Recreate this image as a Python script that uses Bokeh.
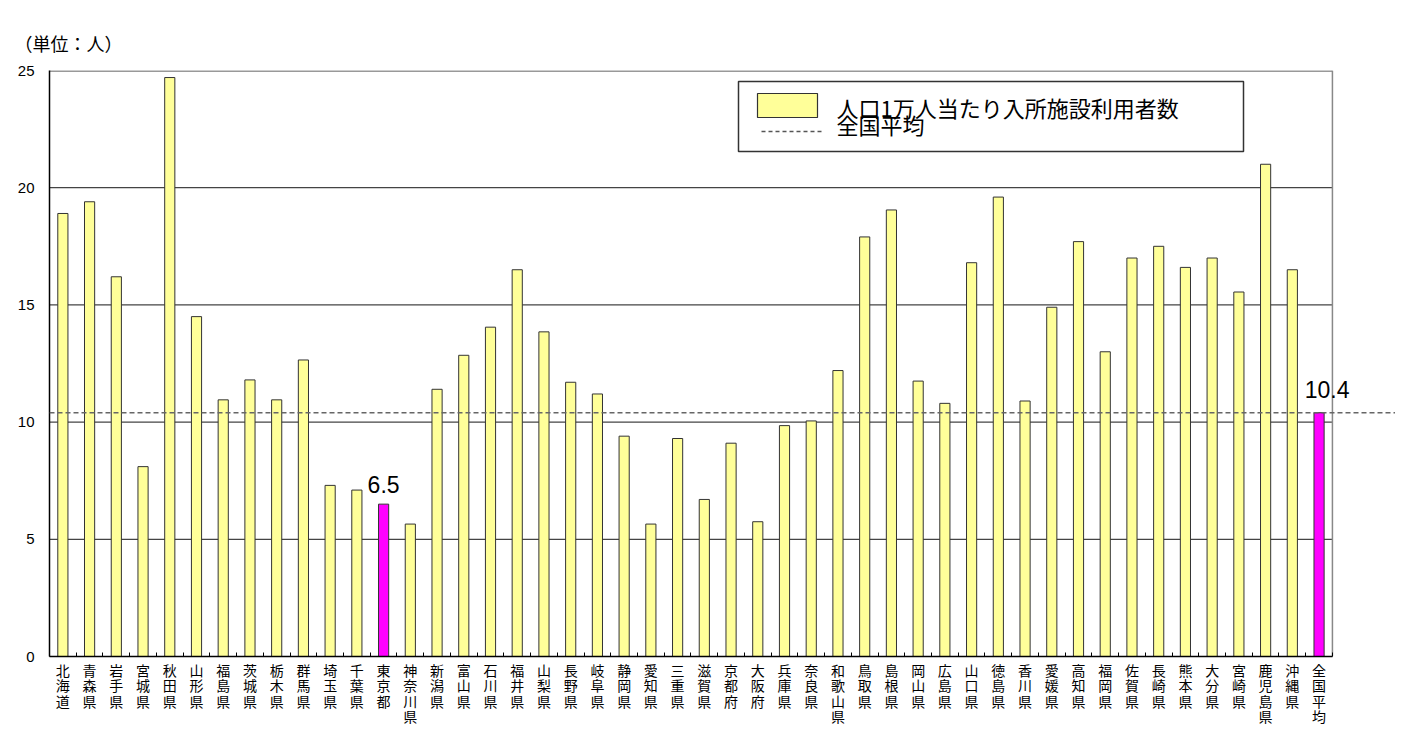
from bokeh.plotting import figure
from bokeh.models import (Range1d, FixedTicker, Span, Label, BoxAnnotation, Arrow,
                          ColumnDataSource)
from bokeh.core.properties import value
from bokeh.embed import file_html
from bokeh.resources import INLINE

# ---------------- data ----------------
prefectures = ["北海道", "青森県", "岩手県", "宮城県", "秋田県", "山形県", "福島県", "茨城県",
               "栃木県", "群馬県", "埼玉県", "千葉県", "東京都", "神奈川県", "新潟県", "富山県",
               "石川県", "福井県", "山梨県", "長野県", "岐阜県", "静岡県", "愛知県", "三重県",
               "滋賀県", "京都府", "大阪府", "兵庫県", "奈良県", "和歌山県", "鳥取県", "島根県",
               "岡山県", "広島県", "山口県", "徳島県", "香川県", "愛媛県", "高知県", "福岡県",
               "佐賀県", "長崎県", "熊本県", "大分県", "宮崎県", "鹿児島県", "沖縄県", "全国平均"]
users_per_10k = [18.9, 19.4, 16.2, 8.1, 24.7, 14.5, 10.95, 11.8,
                 10.95, 12.65, 7.3, 7.1, 6.5, 5.65, 11.4, 12.85,
                 14.05, 16.5, 13.85, 11.7, 11.2, 9.4, 5.65, 9.3,
                 6.7, 9.1, 5.75, 9.85, 10.05, 12.2, 17.9, 19.05,
                 11.75, 10.8, 16.8, 19.6, 10.9, 14.9, 17.7, 13.0,
                 17.0, 17.5, 16.6, 17.0, 15.55, 21.0, 16.5, 10.4]
national_average = 10.4
highlighted = ["東京都", "全国平均"]
labelled = ["東京都", "全国平均"]
y_ticks = [0, 5, 10, 15, 20, 25]
unit_text = "（単位：人）"
legend_bar_text = "人口1万人当たり入所施設利用者数"
legend_avg_text = "全国平均"

# ---------------- styling ----------------
JP = "Noto Sans CJK JP"
NUM = "Liberation Sans"
BAR_YELLOW = "#FFFF99"
BAR_MAGENTA = "#FF00FF"
EDGE = "#333333"

n = len(prefectures)
idx = list(range(n))
colors = [BAR_MAGENTA if p in highlighted else BAR_YELLOW for p in prefectures]

src = ColumnDataSource(dict(x=idx, top=users_per_10k, color=colors, name=prefectures))

x_start, x_end_cat = -0.5, n - 0.5
x_end = x_end_cat + 2.36   # room on the right for the extended average line

p = figure(width=1395, height=729, output_backend="svg", toolbar_location=None,
           x_range=Range1d(x_start, x_end), y_range=Range1d(y_ticks[0], y_ticks[-1]),
           min_border_left=49, min_border_right=0, min_border_top=70, min_border_bottom=70,
           background_fill_color="white", border_fill_color="white")
p.outline_line_color = None
p.xgrid.visible = False
p.ygrid.visible = False

# unit label as the title
p.title.text = unit_text
p.title.align = "left"
p.title.offset = -35
p.title.standoff = 30
p.title.text_font = JP
p.title.text_font_size = "18px"
p.title.text_font_style = "normal"
p.title.text_color = "black"

# axes
p.yaxis.ticker = FixedTicker(ticks=y_ticks)
p.yaxis.axis_line_color = "black"
p.yaxis.axis_line_width = 1.5
p.yaxis.major_tick_in = 0
p.yaxis.major_tick_out = 0
p.yaxis.minor_tick_line_color = None
p.yaxis.major_label_standoff = 15
p.yaxis.major_label_text_font = NUM
p.yaxis.major_label_text_font_size = "15px"
p.yaxis.major_label_text_color = "black"

p.xaxis.ticker = FixedTicker(ticks=idx, minor_ticks=[i - 0.5 for i in range(n + 1)])
p.xaxis.bounds = (x_start, x_end_cat)
p.xaxis.major_label_overrides = {i: "\n".join(name) for i, name in enumerate(prefectures)}
p.xaxis.axis_line_color = "black"
p.xaxis.axis_line_width = 1.5
p.xaxis.major_tick_in = 0
p.xaxis.major_tick_out = 0
p.xaxis.minor_tick_in = 4
p.xaxis.minor_tick_out = 0
p.xaxis.minor_tick_line_color = "black"
p.xaxis.major_label_standoff = 3
p.xaxis.major_label_text_font = JP
p.xaxis.major_label_text_font_size = "14px"
p.xaxis.major_label_text_line_height = 0.78
p.xaxis.major_label_text_color = "black"

# grid lines (limited to the category area) and frame borders
grid_levels = [t for t in y_ticks[1:-1]]
p.segment(x0=[x_start] * len(grid_levels), x1=[x_end_cat] * len(grid_levels),
          y0=grid_levels, y1=grid_levels, line_color="#444444", line_width=1.2)
p.segment(x0=[x_start], x1=[x_end_cat], y0=[y_ticks[-1]], y1=[y_ticks[-1]],
          line_color="#999999", line_width=3)
p.segment(x0=[x_end_cat], x1=[x_end_cat], y0=[y_ticks[0]], y1=[y_ticks[-1]],
          line_color="#888888", line_width=1.5)

# bars
p.vbar(x="x", top="top", width=0.38, source=src, fill_color="color",
       line_color=EDGE, line_width=1)

# national average line
p.add_layout(Span(location=national_average, dimension="width", line_color="#666666",
                  line_width=1.6, line_dash="5 3"))

# value labels
lab_x = [prefectures.index(l) for l in labelled]
lab_y = [users_per_10k[i] for i in lab_x]
p.text(x=lab_x, y=lab_y, text=[f"{v:.1f}" for v in lab_y],
       x_offset=[0, 8], y_offset=[-11, -15],
       text_align="center", text_baseline="bottom",
       text_font=value(NUM), text_font_size="23px", text_color="black")

# legend (drawn manually to match the original layout; screen units from frame bottom-left)
p.add_layout(BoxAnnotation(left=689, right=1194, top=575, bottom=505,
                           left_units="screen", right_units="screen",
                           top_units="screen", bottom_units="screen",
                           fill_color="white", fill_alpha=1.0,
                           line_color=EDGE, line_alpha=1.0, line_width=1.5))
p.add_layout(BoxAnnotation(left=708, right=768, top=563, bottom=539,
                           left_units="screen", right_units="screen",
                           top_units="screen", bottom_units="screen",
                           fill_color=BAR_YELLOW, fill_alpha=1.0,
                           line_color=EDGE, line_alpha=1.0, line_width=1.2))
p.add_layout(Arrow(end=None, x_start=712, y_start=525, x_end=772, y_end=525,
                   start_units="screen", end_units="screen",
                   line_color="#555555", line_width=1.5, line_dash="4 3"))
p.add_layout(Label(x=787, y=550, x_units="screen", y_units="screen", text=legend_bar_text,
                   text_font=JP, text_font_size="22px", text_baseline="middle",
                   text_color="black"))
p.add_layout(Label(x=787, y=533, x_units="screen", y_units="screen", text=legend_avg_text,
                   text_font=JP, text_font_size="22px", text_baseline="middle",
                   text_color="black"))

open("out.html", "w").write(file_html(p, INLINE))
